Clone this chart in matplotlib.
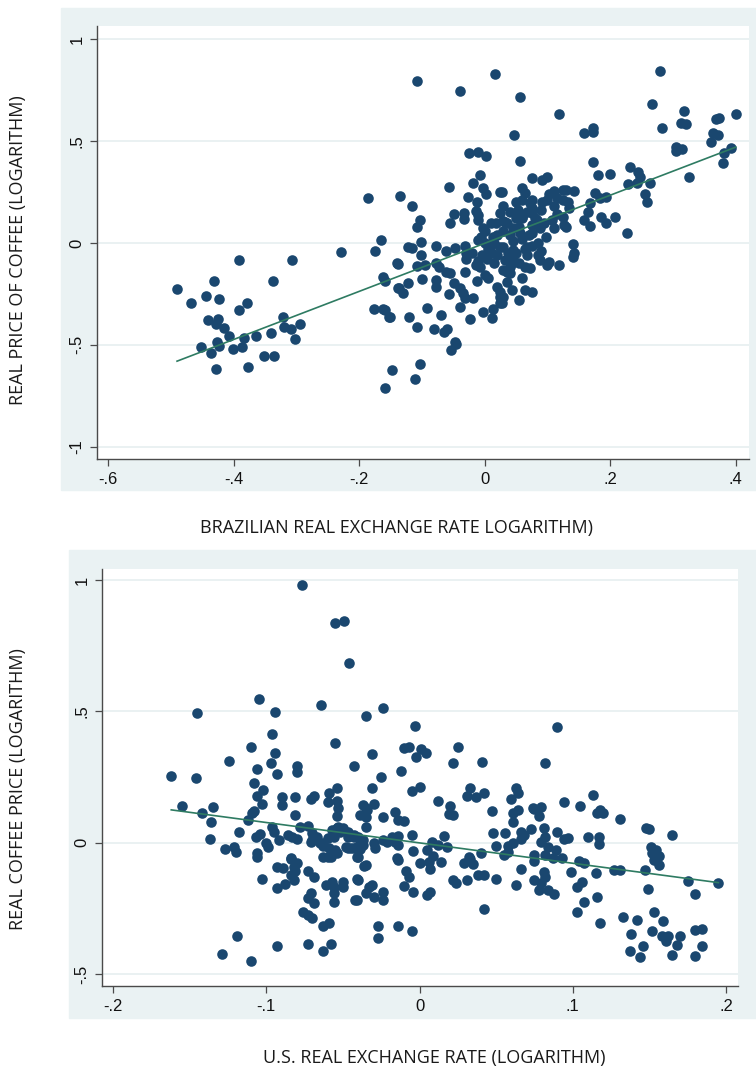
import matplotlib.pyplot as plt
import numpy as np

# top panel: brazilian real exchange rate vs real coffee price (logs)
braz_x = [
    -0.490, -0.468, -0.444, -0.431, -0.423, -0.441, -0.425, -0.428, -0.415, -0.407,
    -0.426, -0.423, -0.452, -0.436, -0.428, -0.401, -0.387, -0.383, -0.391, -0.379,
    -0.392, -0.365, -0.377, -0.352, -0.336, -0.341, -0.337, -0.321, -0.319, -0.309,
    -0.294, -0.302, -0.307, -0.229, -0.148, -0.159, -0.162, -0.152, -0.162, -0.158,
    -0.140, -0.138, -0.186, -0.165, -0.175, -0.135, -0.025, -0.011, 0.002, -0.008,
    -0.018, -0.003, 0.002, 0.024, -0.057, -0.027, -0.013, -0.116, -0.103, -0.107,
    -0.049, -0.033, -0.056, -0.033, -0.014, -0.011, -0.010, -0.003, 0.024, 0.018,
    0.029, 0.035, -0.122, -0.115, -0.102, -0.102, -0.138, -0.107, -0.095, -0.078,
    -0.062, -0.048, -0.032, -0.011, -0.006, 0.013, -0.029, -0.030, -0.078, -0.072,
    -0.062, -0.056, -0.032, -0.014, -0.008, 0.003, 0.011, 0.024, 0.035, 0.035,
    -0.137, -0.130, -0.122, -0.100, -0.078, -0.078, -0.057, -0.049, -0.040, -0.035,
    -0.032, -0.018, -0.013, 0.000, 0.005, 0.019, 0.024, 0.025, 0.025, 0.013,
    0.011, -0.002, -0.024, -0.040, -0.177, -0.158, -0.151, -0.121, -0.107, -0.092,
    -0.080, -0.070, -0.064, -0.060, -0.048, -0.045, -0.053, -0.103, -0.111, 0.046,
    0.158, 0.172, 0.172, 0.056, 0.172, 0.180, 0.199, 0.232, 0.245, 0.247,
    0.228, 0.242, 0.255, 0.258, 0.076, 0.092, 0.099, 0.027, 0.060, 0.064,
    0.111, 0.124, 0.103, 0.116, 0.099, 0.092, 0.142, 0.132, 0.135, 0.175,
    0.183, 0.194, 0.167, 0.164, 0.159, 0.167, 0.186, 0.194, 0.207, 0.226,
    0.075, 0.076, 0.067, 0.053, 0.115, 0.108, 0.124, 0.127, 0.111, 0.088,
    0.076, 0.097, 0.032, 0.045, 0.056, 0.040, 0.140, 0.143, 0.140, 0.068,
    0.076, 0.067, 0.088, 0.099, 0.103, 0.118, 0.064, 0.072, 0.060, 0.064,
    0.076, 0.054, 0.029, 0.037, 0.045, 0.032, 0.043, 0.029, 0.040, 0.035,
    0.043, 0.029, 0.027, -0.108, -0.040, 0.016, 0.057, 0.118, 0.280, 0.267,
    0.283, 0.318, 0.312, 0.320, 0.368, 0.374, 0.400, 0.363, 0.371, 0.361,
    0.305, 0.315, 0.304, 0.393, 0.382, 0.379, 0.325, 0.264, 0.005, 0.015,
    0.020, 0.045, 0.050, 0.060, 0.070, 0.055, 0.085, 0.090, -0.020, -0.010,
    0.000, 0.010, 0.040, 0.060, 0.080, 0.050, 0.030, 0.130, 0.124, 0.130,
    0.059, 0.072, 0.060, 0.075, 0.083, 0.010, 0.020, 0.030, 0.045, 0.055,
    0.065, 0.075, 0.085, 0.095, 0.015, -0.005, 0.000, 0.050, 0.040, 0.110,
    0.090,
]
coffee_y = [
    -0.225, -0.294, -0.260, -0.186, -0.275, -0.378, -0.373, -0.397, -0.417, -0.456,
    -0.485, -0.505, -0.510, -0.540, -0.620, -0.520, -0.510, -0.466, -0.330, -0.294,
    -0.083, -0.455, -0.610, -0.554, -0.554, -0.440, -0.186, -0.363, -0.410, -0.423,
    -0.397, -0.470, -0.083, -0.043, -0.622, -0.710, -0.325, -0.361, -0.167, -0.186,
    -0.100, -0.220, 0.220, 0.015, -0.040, 0.230, 0.440, 0.446, 0.427, 0.333,
    0.294, 0.270, 0.240, 0.250, 0.274, 0.225, 0.200, 0.180, 0.113, 0.080,
    0.142, 0.147, 0.098, 0.118, 0.157, 0.137, 0.113, 0.074, 0.147, 0.098,
    0.108, 0.098, -0.020, -0.024, 0.005, -0.059, -0.103, -0.113, -0.108, -0.015,
    -0.040, -0.024, -0.015, 0.015, 0.030, 0.030, -0.049, -0.078, -0.098, -0.118,
    -0.142, -0.147, -0.142, -0.108, -0.118, -0.078, -0.049, -0.020, -0.083, -0.142,
    -0.220, -0.245, -0.196, -0.176, -0.181, -0.216, -0.250, -0.196, -0.220, -0.245,
    -0.270, -0.270, -0.186, -0.157, -0.172, -0.216, -0.240, -0.265, -0.294, -0.323,
    -0.368, -0.338, -0.373, -0.314, -0.323, -0.328, -0.363, -0.363, -0.412, -0.319,
    -0.422, -0.353, -0.436, -0.422, -0.485, -0.495, -0.524, -0.593, -0.667, 0.530,
    0.540, 0.563, 0.544, 0.400, 0.397, 0.333, 0.338, 0.372, 0.348, 0.324,
    0.289, 0.294, 0.240, 0.200, 0.319, 0.309, 0.324, 0.250, 0.270, 0.245,
    0.255, 0.260, 0.240, 0.220, 0.211, 0.200, 0.255, 0.200, 0.172, 0.245,
    0.220, 0.225, 0.196, 0.152, 0.113, 0.083, 0.127, 0.098, 0.127, 0.049,
    0.211, 0.172, 0.152, 0.162, 0.142, 0.113, 0.127, 0.088, 0.074, 0.074,
    0.049, 0.030, 0.103, 0.074, 0.049, 0.039, -0.005, -0.049, -0.069, -0.020,
    -0.015, -0.059, -0.083, -0.108, -0.093, -0.108, -0.118, -0.123, -0.172, -0.230,
    -0.240, -0.279, -0.020, -0.049, -0.034, -0.083, -0.098, -0.132, -0.147, -0.191,
    -0.230, -0.265, -0.294, 0.794, 0.745, 0.828, 0.716, 0.632, 0.843, 0.681,
    0.564, 0.647, 0.588, 0.583, 0.608, 0.613, 0.632, 0.539, 0.529, 0.495,
    0.470, 0.460, 0.451, 0.466, 0.441, 0.392, 0.324, 0.294, -0.030, 0.000,
    -0.060, 0.010, -0.050, 0.020, 0.040, -0.100, 0.000, -0.040, -0.050, -0.090,
    0.060, 0.100, 0.150, 0.120, 0.120, 0.200, 0.180, 0.260, 0.211, 0.078,
    0.211, 0.196, 0.127, 0.147, 0.113, -0.010, 0.040, 0.060, -0.070, 0.080,
    -0.030, 0.090, -0.060, 0.100, -0.100, -0.060, 0.000, 0.120, -0.120, 0.180,
    0.160,
]
braz_fit_x = [-0.49, 0.40]
braz_fit_y = [-0.58, 0.47]

# bottom panel: u.s. real exchange rate vs real coffee price (logs)
us_x = [
    -0.0765, -0.055, -0.049, -0.046, -0.064, -0.024, -0.035, -0.105, -0.145, -0.094,
    -0.096, -0.110, -0.094, -0.055, -0.031, -0.124, -0.097, -0.106, -0.080, -0.080,
    -0.093, -0.043, -0.025, -0.012, -0.162, -0.146, -0.108, -0.102, -0.054, -0.031,
    -0.106, -0.090, -0.081, -0.069, -0.071, -0.059, -0.060, -0.054, -0.155, -0.135,
    -0.103, -0.090, -0.037, -0.030, -0.142, -0.136, -0.137, -0.118, -0.112, -0.109,
    -0.108, -0.127, -0.121, -0.120, -0.107, -0.104, -0.100, -0.099, -0.106, -0.106,
    -0.096, -0.095, -0.092, -0.086, -0.083, -0.080, -0.081, -0.078, -0.073, -0.070,
    -0.071, -0.067, -0.065, -0.056, -0.054, -0.052, -0.047, -0.043, -0.039, -0.037,
    -0.063, -0.059, -0.058, -0.054, -0.060, -0.048, -0.043, -0.041, -0.030, -0.029,
    -0.035, -0.034, -0.039, -0.035, -0.093, -0.089, -0.084, -0.082, -0.080, -0.103,
    -0.093, -0.088, -0.073, -0.069, -0.061, -0.057, -0.056, -0.050, -0.050, -0.056,
    -0.056, -0.071, -0.073, -0.069, -0.040, -0.041, -0.035, -0.031, -0.030, -0.036,
    -0.076, -0.073, -0.070, -0.063, -0.059, -0.027, -0.027, -0.073, -0.063, -0.058,
    -0.093, -0.119, -0.129, -0.110, -0.003, 0.090, -0.010, -0.007, 0.001, 0.004,
    -0.002, 0.025, 0.022, 0.041, 0.082, -0.005, 0.000, -0.024, -0.010, 0.012,
    0.020, 0.019, 0.022, 0.033, 0.031, 0.037, 0.042, 0.047, 0.063, 0.064,
    0.060, 0.064, 0.061, 0.061, 0.075, 0.079, 0.078, 0.094, 0.105, 0.113,
    0.116, -0.024, -0.021, -0.018, -0.014, -0.014, -0.016, -0.005, -0.004, -0.015,
    -0.014, -0.009, -0.007, -0.010, -0.004, 0.000, 0.005, 0.008, 0.012, 0.009,
    0.006, 0.007, 0.016, 0.018, 0.014, 0.005, 0.007, 0.022, 0.024, 0.031,
    0.029, 0.033, 0.035, 0.032, 0.040, 0.038, 0.042, 0.050, 0.042, 0.048,
    0.056, 0.050, 0.058, 0.061, 0.055, 0.058, 0.066, 0.066, 0.068, 0.073,
    0.063, 0.066, 0.075, 0.075, 0.081, 0.082, 0.079, 0.084, 0.082, 0.087,
    0.089, 0.093, 0.090, 0.094, 0.097, 0.075, 0.078, 0.081, 0.082, 0.079,
    0.084, 0.088, 0.099, 0.103, 0.106, 0.107, 0.103, 0.104, 0.107, 0.110,
    0.115, 0.117, 0.117, 0.116, 0.118, -0.014, -0.005, -0.024, -0.024, 0.120,
    0.131, 0.148, 0.150, 0.165, 0.151, 0.154, 0.152, 0.156, 0.153, 0.156,
    0.147, 0.149, 0.127, 0.131, 0.175, 0.195, 0.180, 0.133, 0.142, 0.153,
    0.159, 0.138, 0.152, 0.158, 0.162, 0.161, 0.170, 0.168, 0.180, 0.184,
    0.184, 0.137, 0.146, 0.144, 0.165, 0.180, -0.043, -0.037, -0.041, -0.045,
    -0.040, -0.035, -0.041, -0.033, -0.042, -0.084, -0.081, -0.084, -0.082, -0.070,
    -0.063, -0.060, -0.057, -0.053, -0.050, -0.047, -0.040, -0.063, -0.055, -0.047,
    -0.039, -0.054, -0.053, -0.035, -0.016, -0.014, 0.074, 0.118,
]
us_coffee_y = [
    0.981, 0.837, 0.844, 0.684, 0.525, 0.513, 0.483, 0.548, 0.494, 0.498,
    0.414, 0.365, 0.342, 0.380, 0.338, 0.312, 0.304, 0.281, 0.293, 0.270,
    0.262, 0.293, 0.251, 0.274, 0.255, 0.247, 0.228, 0.200, 0.209, 0.209,
    0.179, 0.175, 0.175, 0.179, 0.167, 0.190, 0.156, 0.160, 0.141, 0.137,
    0.148, 0.144, 0.144, 0.148, 0.114, 0.080, 0.015, 0.042, 0.087, 0.114,
    0.122, -0.023, -0.015, -0.034, 0.023, 0.034, 0.000, -0.015, -0.038, -0.053,
    0.061, 0.042, 0.011, 0.030, 0.023, 0.015, 0.106, 0.061, 0.065, 0.038,
    0.004, 0.023, 0.000, 0.023, 0.057, 0.042, 0.023, 0.023, 0.011, -0.008,
    -0.011, -0.019, -0.053, -0.038, -0.053, -0.015, -0.019, -0.053, 0.000, -0.019,
    0.099, 0.125, 0.106, 0.061, -0.091, -0.095, -0.057, -0.091, -0.076, -0.137,
    -0.171, -0.156, -0.106, -0.129, -0.160, -0.148, -0.167, -0.148, -0.167, -0.190,
    -0.224, -0.190, -0.209, -0.228, -0.141, -0.217, -0.190, -0.160, -0.205, -0.087,
    -0.262, -0.274, -0.285, -0.319, -0.304, -0.316, -0.361, -0.384, -0.411, -0.384,
    -0.395, -0.357, -0.422, -0.452, 0.445, 0.441, 0.361, 0.365, 0.357, 0.342,
    0.327, 0.365, 0.304, 0.308, 0.304, 0.198, 0.213, 0.099, 0.084, 0.160,
    0.141, 0.110, 0.106, 0.209, 0.179, 0.175, 0.190, 0.122, 0.209, 0.190,
    0.167, 0.125, 0.114, 0.080, 0.129, 0.137, 0.103, 0.156, 0.141, 0.183,
    0.114, 0.011, 0.004, 0.023, 0.027, -0.008, 0.004, 0.030, -0.030, -0.057,
    -0.065, -0.106, -0.129, -0.163, -0.186, -0.076, -0.027, 0.004, -0.008, -0.049,
    -0.072, -0.099, 0.027, -0.015, -0.072, -0.198, -0.186, -0.141, -0.152, -0.141,
    -0.076, -0.061, -0.080, -0.053, -0.038, -0.122, -0.122, -0.137, -0.251, 0.038,
    0.038, -0.011, -0.011, 0.000, -0.046, -0.034, 0.042, 0.015, 0.030, 0.053,
    -0.160, -0.099, -0.046, -0.068, 0.057, 0.023, 0.004, -0.015, -0.046, -0.057,
    -0.027, -0.057, 0.042, 0.015, 0.019, -0.141, -0.179, -0.110, -0.129, -0.152,
    -0.179, -0.194, -0.110, -0.167, -0.148, -0.224, -0.262, -0.068, -0.076, 0.023,
    -0.114, 0.023, -0.004, -0.205, -0.304, -0.319, -0.338, -0.186, -0.217, 0.114,
    0.091, 0.057, 0.053, 0.030, -0.015, -0.027, -0.038, -0.049, -0.065, -0.084,
    -0.103, -0.175, -0.103, -0.103, -0.144, -0.152, -0.194, -0.281, -0.293, -0.262,
    -0.297, -0.346, -0.338, -0.354, -0.354, -0.376, -0.354, -0.388, -0.331, -0.327,
    -0.395, -0.414, -0.392, -0.437, -0.426, -0.430, 0.030, 0.011, -0.015, -0.019,
    -0.053, -0.084, -0.137, -0.167, -0.217, -0.061, -0.106, -0.122, -0.141, 0.011,
    0.000, 0.019, 0.049, 0.061, 0.057, 0.042, 0.023, -0.053, -0.027, -0.019,
    -0.023, 0.103, 0.133, 0.133, 0.118, 0.087, 0.133, 0.125,
]
us_fit_x = [-0.162, 0.195]
us_fit_y = [0.125, -0.152]

top_xticks = [-0.6, -0.4, -0.2, 0, 0.2, 0.4]
top_xlabels = ["-.6", "-.4", "-.2", "0", ".2", ".4"]
top_yticks = [-1, -0.5, 0, 0.5, 1]
top_ylabels = ["-1", "-.5", "0", ".5", "1"]
bot_xticks = [-0.2, -0.1, 0, 0.1, 0.2]
bot_xlabels = ["-.2", "-.1", "0", ".1", ".2"]
bot_yticks = [-0.5, 0, 0.5, 1]
bot_ylabels = ["-.5", "0", ".5", "1"]

navy = "#1a476f"
green = "#2e7b62"
region = "#eaf2f3"
grid = "#e6eff0"
spine = "#4a4a4a"

fig = plt.figure(figsize=(7.56, 10.70), dpi=100)

# light stata-like graph regions behind both plots
fig.add_artist(plt.Rectangle((0.0807, 0.5421), 0.9193, 0.4504, transform=fig.transFigure,
                             color=region, zorder=0))
fig.add_artist(plt.Rectangle((0.0913, 0.0486), 0.9087, 0.4374, transform=fig.transFigure,
                             color=region, zorder=0))


def style(ax, xt, xl, yt, yl):
    ax.set_facecolor("white")
    for s in ["top", "right"]:
        ax.spines[s].set_visible(False)
    for s in ["left", "bottom"]:
        ax.spines[s].set_color(spine)
        ax.spines[s].set_linewidth(1.0)
    ax.set_xticks(xt)
    ax.set_xticklabels(xl, family="Liberation Sans", fontsize=12, color="#111111")
    ax.set_yticks(yt)
    ax.set_yticklabels(yl, family="Liberation Sans", fontsize=12, color="#111111",
                       rotation=90, va="center")
    ax.tick_params(length=5, width=0.9, color=spine, pad=4)
    ax.grid(axis="y", color=grid, linewidth=1.2)
    ax.set_axisbelow(True)


ax1 = fig.add_axes([0.1283, 0.5710, 0.8624, 0.4047])
ax1.scatter(braz_x, coffee_y, s=58, color=navy, linewidths=0, zorder=3)
ax1.plot(braz_fit_x, braz_fit_y, color=green, linewidth=1.2, zorder=4)
ax1.set_xlim(-0.6175, 0.421)
ax1.set_ylim(-1.06, 1.064)
style(ax1, top_xticks, top_xlabels, top_yticks, top_ylabels)

ax2 = fig.add_axes([0.1349, 0.0785, 0.8413, 0.3897])
ax2.scatter(us_x, us_coffee_y, s=58, color=navy, linewidths=0, zorder=3)
ax2.plot(us_fit_x, us_fit_y, color=green, linewidth=1.2, zorder=4)
ax2.set_xlim(-0.2072, 0.2078)
ax2.set_ylim(-0.5456, 1.042)
style(ax2, bot_xticks, bot_xlabels, bot_yticks, bot_ylabels)

lab = dict(family="Open Sans", fontsize=13, color="#1a1a1a")
fig.text(0.024, 0.766, "REAL PRICE OF COFFEE (LOGARITHM)", rotation=90,
         ha="center", va="center", **lab)
fig.text(0.525, 0.507, "BRAZILIAN REAL EXCHANGE RATE LOGARITHM)",
         ha="center", va="center", **lab)
fig.text(0.024, 0.2626, "REAL COFFEE PRICE (LOGARITHM)", rotation=90,
         ha="center", va="center", **lab)
fig.text(0.575, 0.0112, "U.S. REAL EXCHANGE RATE (LOGARITHM)",
         ha="center", va="center", **lab)

fig.savefig("out.png", dpi=100)
